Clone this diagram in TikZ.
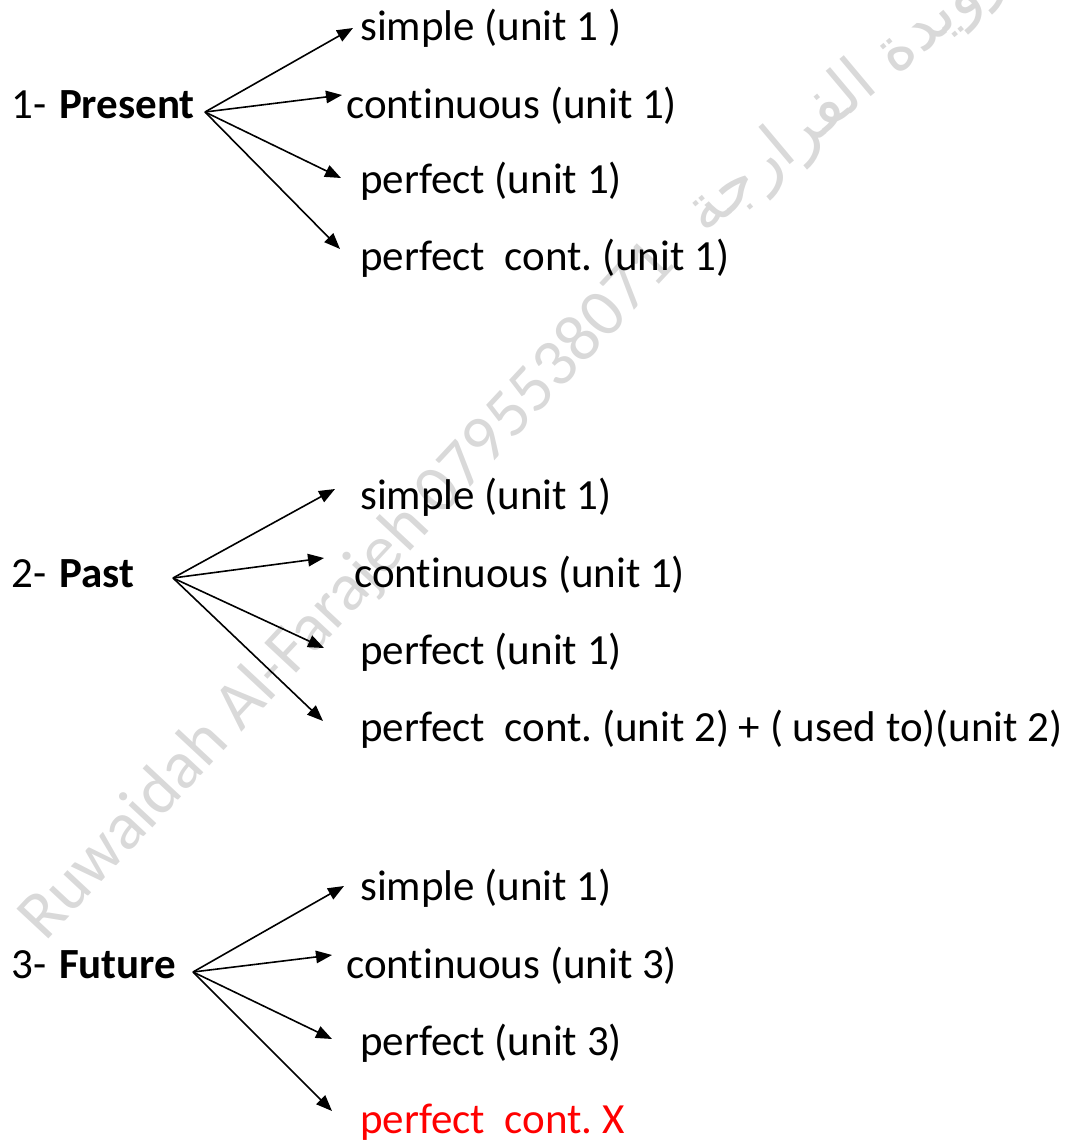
\documentclass[tikz,border=0pt]{standalone}
\usepackage{fontspec}
\setmainfont{Carlito}[Ligatures={TeX,NoCommon}]
\newfontfamily\arabicfont[Script=Arabic]{DejaVu Sans}
\TeXXeTstate=1
\usetikzlibrary{arrows.meta}

\tikzset{
  tense/.style={inner sep=0pt, anchor=base west, font=\fontsize{43}{50}\selectfont},
  watermark/.style={inner sep=0pt, anchor=center, text=black!15},
  branch/.style={->, line width=1.6pt}
}

\begin{document}
\frenchspacing
\begin{tikzpicture}[x=1pt, y=-1pt, >={Triangle[length=16pt,width=12.5pt]}]
  \useasboundingbox (0,0) rectangle (1065,1140);
  \node[watermark, rotate=47, font=\fontsize{68}{74}\selectfont] (wmname) at (348,592) {Ruwaidah Al-Farajeh 0795538071};
  \node[watermark, rotate=40, font=\fontsize{64}{68}\arabicfont] (wmarabic) at (846,96) {\beginR رويدة الفرارجة\endR};

  \node[tense] (present) at (11,118) {1-\hspace{.3em}\textbf{Present}};
  \node[tense] (prsimple) at (360,41) {simple (unit 1 )};
  \node[tense] (prcont) at (346,118) {continuous (unit 1)};
  \node[tense] (prperf) at (360,193) {perfect (unit 1)};
  \node[tense] (prpcont) at (360,270) {perfect\ \ cont. (unit 1)};
  \coordinate (prfork) at (205,112);
  \coordinate (pr1) at (353,28);
  \coordinate (pr2) at (342,95);
  \coordinate (pr3) at (341,178);
  \coordinate (pr4) at (340,249);
  \foreach \t in {1,...,4} \draw[branch] (prfork) -- (pr\t);

  \node[tense] (past) at (11,587) {2-\hspace{.3em}\textbf{Past}};
  \node[tense] (pasimple) at (360,509) {simple (unit 1)};
  \node[tense] (pacont) at (354,587) {continuous (unit 1)};
  \node[tense] (paperf) at (360,664) {perfect (unit 1)};
  \node[tense] (papcont) at (360,741) {perfect\ \ cont. (unit 2) + ( used to)(unit 2)};
  \coordinate (pafork) at (173,578);
  \coordinate (pa1) at (335,489);
  \coordinate (pa2) at (324,558);
  \coordinate (pa3) at (324,648);
  \coordinate (pa4) at (323,721);
  \foreach \t in {1,...,4} \draw[branch] (pafork) -- (pa\t);

  \node[tense] (future) at (11,978) {3-\hspace{.3em}\textbf{Future}};
  \node[tense] (fusimple) at (360,900) {simple (unit 1)};
  \node[tense] (fucont) at (346,978) {continuous (unit 3)};
  \node[tense] (fuperf) at (360,1055) {perfect (unit 3)};
  \node[tense, text=red] (fupcont) at (360,1133) {perfect\ \ cont. X};
  \coordinate (fufork) at (193,972);
  \coordinate (fu1) at (344,886);
  \coordinate (fu2) at (332,955);
  \coordinate (fu3) at (332,1039);
  \coordinate (fu4) at (332,1111);
  \foreach \t in {1,...,4} \draw[branch] (fufork) -- (fu\t);
\end{tikzpicture}
\end{document}
